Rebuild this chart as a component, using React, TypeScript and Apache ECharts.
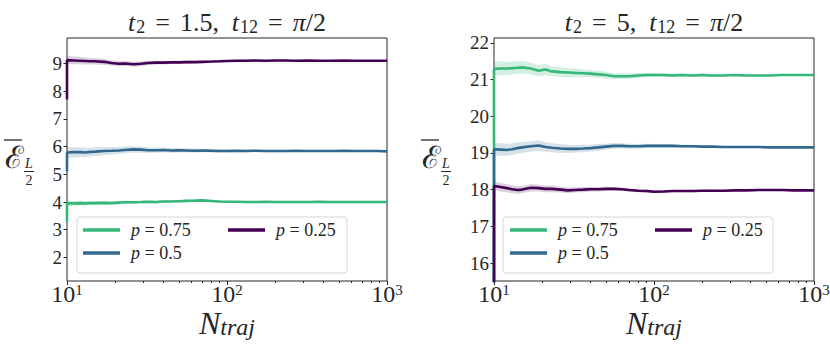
import { useEffect, useRef } from 'react';
import * as echarts from 'echarts';

// ---------------- data ----------------
const N_TRAJ = [10, 11, 12, 13, 14, 15, 17, 19, 21, 23, 26, 29, 32, 36, 40, 45, 50, 56, 63, 70, 80, 90, 100, 115, 130, 150, 175, 200, 230, 270, 320, 380, 450, 530, 630, 750, 870, 1000];

// left panel: t2 = 1.5
const LEFT_P075 = [3.96, 3.95, 3.96, 3.95, 3.96, 3.96, 3.97, 3.96, 3.98, 3.99, 3.99, 4.0, 4.01, 4.0, 4.02, 4.02, 4.03, 4.04, 4.05, 4.06, 4.04, 4.02, 4.01, 4.01, 4.0, 4.0, 4.01, 4.0, 4.0, 4.0, 4.0, 4.01, 4.0, 4.0, 4.0, 4.0, 4.0, 4.0];
const LEFT_P05 = [5.79, 5.8, 5.8, 5.79, 5.81, 5.82, 5.84, 5.85, 5.86, 5.88, 5.9, 5.89, 5.87, 5.87, 5.88, 5.86, 5.87, 5.86, 5.85, 5.86, 5.85, 5.84, 5.84, 5.85, 5.84, 5.85, 5.84, 5.84, 5.84, 5.85, 5.84, 5.84, 5.84, 5.85, 5.84, 5.84, 5.84, 5.83];
const LEFT_P025 = [9.12, 9.11, 9.1, 9.09, 9.08, 9.08, 9.06, 9.02, 8.99, 9.0, 8.97, 8.99, 9.02, 9.03, 9.03, 9.04, 9.04, 9.05, 9.05, 9.06, 9.07, 9.08, 9.09, 9.1, 9.1, 9.11, 9.1, 9.11, 9.11, 9.1, 9.11, 9.1, 9.1, 9.11, 9.1, 9.1, 9.1, 9.1];
const LEFT_P075_SD = [0.1, 0.09, 0.09, 0.08, 0.08, 0.08, 0.07, 0.07, 0.06, 0.06, 0.06, 0.05, 0.05, 0.05, 0.05, 0.04, 0.04, 0.04, 0.04, 0.03, 0.03, 0.03, 0.03, 0.03, 0.02, 0.02, 0.02, 0.02, 0.02, 0.02, 0.02, 0.01, 0.01, 0.01, 0.01, 0.01, 0.01, 0.01];
const LEFT_P05_SD = [0.2, 0.19, 0.18, 0.17, 0.16, 0.16, 0.15, 0.14, 0.13, 0.12, 0.11, 0.11, 0.1, 0.09, 0.09, 0.08, 0.08, 0.07, 0.07, 0.06, 0.06, 0.06, 0.05, 0.05, 0.05, 0.04, 0.04, 0.04, 0.04, 0.03, 0.03, 0.03, 0.03, 0.02, 0.02, 0.02, 0.02, 0.02];
const LEFT_P025_SD = [0.15, 0.14, 0.14, 0.13, 0.12, 0.12, 0.11, 0.1, 0.1, 0.09, 0.09, 0.08, 0.08, 0.07, 0.07, 0.06, 0.06, 0.06, 0.05, 0.05, 0.05, 0.04, 0.04, 0.04, 0.04, 0.03, 0.03, 0.03, 0.03, 0.03, 0.02, 0.02, 0.02, 0.02, 0.02, 0.02, 0.02, 0.02];
const LEFT_START = [3.3, 5.1, 7.7]; // value before N = 10 (p=0.75, 0.5, 0.25)

// right panel: t2 = 5
const RIGHT_P075 = [21.29, 21.3, 21.3, 21.31, 21.32, 21.33, 21.3, 21.24, 21.27, 21.22, 21.2, 21.19, 21.18, 21.17, 21.16, 21.14, 21.12, 21.09, 21.09, 21.09, 21.11, 21.12, 21.12, 21.12, 21.11, 21.12, 21.11, 21.12, 21.11, 21.11, 21.12, 21.11, 21.11, 21.11, 21.12, 21.12, 21.12, 21.12];
const RIGHT_P05 = [19.1, 19.09, 19.08, 19.1, 19.13, 19.15, 19.18, 19.2, 19.16, 19.14, 19.12, 19.11, 19.11, 19.12, 19.13, 19.15, 19.17, 19.19, 19.19, 19.18, 19.18, 19.19, 19.19, 19.19, 19.19, 19.18, 19.18, 19.17, 19.17, 19.16, 19.16, 19.16, 19.16, 19.15, 19.15, 19.15, 19.15, 19.15];
const RIGHT_P025 = [18.1, 18.07, 18.04, 18.01, 17.99, 18.0, 18.05, 18.04, 18.02, 18.02, 18.0, 17.98, 17.99, 18.0, 18.01, 18.01, 18.02, 18.02, 18.01, 17.99, 17.97, 17.96, 17.94, 17.95, 17.96, 17.96, 17.96, 17.97, 17.97, 17.97, 17.98, 17.98, 17.99, 17.99, 17.99, 17.98, 17.98, 17.98];
const RIGHT_P075_SD = [0.19, 0.19, 0.18, 0.18, 0.17, 0.17, 0.16, 0.15, 0.15, 0.14, 0.13, 0.12, 0.12, 0.11, 0.1, 0.1, 0.09, 0.08, 0.08, 0.07, 0.07, 0.06, 0.06, 0.05, 0.05, 0.05, 0.04, 0.04, 0.04, 0.03, 0.03, 0.03, 0.03, 0.02, 0.02, 0.02, 0.02, 0.02];
const RIGHT_P05_SD = [0.17, 0.17, 0.16, 0.16, 0.15, 0.15, 0.14, 0.14, 0.13, 0.12, 0.12, 0.11, 0.1, 0.1, 0.09, 0.09, 0.08, 0.08, 0.07, 0.07, 0.06, 0.06, 0.05, 0.05, 0.05, 0.04, 0.04, 0.04, 0.03, 0.03, 0.03, 0.03, 0.02, 0.02, 0.02, 0.02, 0.02, 0.02];
const RIGHT_P025_SD = [0.12, 0.12, 0.11, 0.11, 0.11, 0.1, 0.1, 0.09, 0.09, 0.09, 0.08, 0.08, 0.07, 0.07, 0.07, 0.06, 0.06, 0.05, 0.05, 0.05, 0.04, 0.04, 0.04, 0.04, 0.03, 0.03, 0.03, 0.03, 0.03, 0.02, 0.02, 0.02, 0.02, 0.02, 0.02, 0.02, 0.01, 0.01];
const RIGHT_START = [15.0, 15.0, 15.0];

const SERIES_NAMES = ['p = 0.75', 'p = 0.5', 'p = 0.25'];
const Y_TICKS_LEFT = [2, 3, 4, 5, 6, 7, 8, 9];
const Y_TICKS_RIGHT = [16, 17, 18, 19, 20, 21, 22];
const X_MAJOR = [10, 100, 1000];
const X_MINOR = [20, 30, 40, 50, 60, 70, 80, 90, 200, 300, 400, 500, 600, 700, 800, 900];

// ---------------- style ----------------
const LINE_COLORS = ['#35b779', '#31688e', '#440154'];
const BAND_COLORS = ['rgba(53,183,121,0.22)', 'rgba(49,104,142,0.2)', 'rgba(68,1,84,0.18)'];
const INK = '#262626';
const SERIF = 'Liberation Serif';

function bandSeries(panel: number, vals: number[], sd: number[], color: string) {
  const pts = N_TRAJ.map((n, i) => [n, vals[i] - sd[i], vals[i] + sd[i]]);
  return {
    type: 'custom', xAxisIndex: panel * 2, yAxisIndex: panel, silent: true, z: 1, clip: true,
    data: pts,
    encode: { x: 0, y: [1, 2] },
    renderItem: (params: any, api: any) => {
      if (params.dataIndex !== 0) return null;
      const upper = pts.map((p) => api.coord([p[0], p[2]]));
      const lower = pts.map((p) => api.coord([p[0], p[1]])).reverse();
      return {
        type: 'polygon',
        shape: { points: [...upper, ...lower] },
        style: { fill: color, stroke: 'none' },
      };
    },
  };
}

function buildSeries(panel: number, values: number[][], sds: number[][], starts: number[]) {
  const out: any[] = [];
  values.forEach((vals, k) => out.push(bandSeries(panel, vals, sds[k], BAND_COLORS[k])));
  values.forEach((vals, k) => {
    out.push({
      type: 'line', name: SERIES_NAMES[k], xAxisIndex: panel * 2, yAxisIndex: panel,
      data: [[N_TRAJ[0], starts[k]], ...N_TRAJ.map((n, i) => [n, vals[i]])],
      symbol: 'none', silent: true, z: 3,
      lineStyle: { color: LINE_COLORS[k], width: 2.6 },
      itemStyle: { color: LINE_COLORS[k] },
    });
  });
  return out;
}

function xAxes(gi: number) {
  const tickStyle = { color: INK, width: 1 };
  return [
    {
      type: 'log', logBase: 10, gridIndex: gi, min: 10, max: 1000, position: 'bottom',
      axisLine: { show: false }, splitLine: { show: false }, minorTick: { show: false },
      axisTick: { show: true, inside: false, length: 4, lineStyle: tickStyle, customValues: X_MAJOR },
      axisLabel: {
        show: true, customValues: X_MAJOR, margin: 1, color: INK, fontFamily: SERIF,
        formatter: (v: number) => `{b|10}{s|${Math.round(Math.log10(v))}}`,
        rich: {
          b: { fontFamily: SERIF, fontSize: 24, lineHeight: 24, verticalAlign: 'bottom', color: INK },
          s: { fontFamily: SERIF, fontSize: 15, lineHeight: 16, verticalAlign: 'top', color: INK },
        },
      },
    },
    {
      type: 'log', logBase: 10, gridIndex: gi, min: 10, max: 1000, position: 'bottom',
      axisLine: { show: false }, splitLine: { show: false }, axisLabel: { show: false },
      axisTick: { show: true, inside: false, length: 2, lineStyle: tickStyle, customValues: X_MINOR },
    },
  ];
}

function yAxis(gi: number, min: number, max: number, ticks: number[]) {
  return {
    type: 'value', gridIndex: gi, min, max, position: 'left',
    axisLine: { show: false }, splitLine: { show: false },
    axisTick: { show: true, inside: false, length: 3.5, lineStyle: { color: INK, width: 1 }, customValues: ticks },
    axisLabel: { show: true, customValues: ticks, margin: 5, fontFamily: SERIF, fontSize: 19, color: INK },
  };
}

const titleRich = {
  i: { fontFamily: SERIF, fontStyle: 'italic', fontSize: 26, lineHeight: 32, verticalAlign: 'bottom', fill: INK },
  n: { fontFamily: SERIF, fontSize: 26, lineHeight: 32, verticalAlign: 'bottom', fill: INK },
  s: { fontFamily: SERIF, fontSize: 18, lineHeight: 17, verticalAlign: 'bottom', fill: INK },
  g: { width: 10, lineHeight: 32, verticalAlign: 'bottom' },
  c: { width: 13, lineHeight: 32, verticalAlign: 'bottom' },
  h: { width: 1, lineHeight: 32, verticalAlign: 'bottom' },
};

function titleText(x: number, t2: string) {
  return {
    type: 'text', x, y: 19.5, z: 20,
    style: {
      text: `{i|t}{h|}{s|2}{g|}{n|=}{g|}{n|${t2},}{c|}{i|t}{h|}{s|12}{g|}{n|=}{g|}{i|π}{n|/2}`,
      rich: titleRich, align: 'center', verticalAlign: 'middle', fill: INK,
    },
  };
}

function xName(x: number) {
  return {
    type: 'text', x, y: 320.5, z: 20,
    style: {
      text: '{N|N}{t|traj}',
      rich: {
        N: { fontFamily: SERIF, fontStyle: 'italic', fontSize: 32, lineHeight: 36, verticalAlign: 'bottom', fill: INK },
        t: { fontFamily: SERIF, fontStyle: 'italic', fontSize: 24, lineHeight: 21, verticalAlign: 'bottom', fill: INK },
      },
      align: 'center', verticalAlign: 'middle', fill: INK,
    },
  };
}

function yName(dx: number) {
  return {
    type: 'group', x: dx, y: 0, z: 20,
    children: [
      { type: 'text', x: 14.5, y: 157, style: { text: 'ℰ', fontFamily: 'DejaVu Serif', fontSize: 31, fill: INK, align: 'center', verticalAlign: 'middle' } },
      { type: 'line', shape: { x1: 4, y1: 140, x2: 22, y2: 140 }, style: { stroke: INK, lineWidth: 1.3 } },
      { type: 'text', x: 29, y: 163, style: { text: 'L', fontFamily: SERIF, fontStyle: 'italic', fontSize: 14, fill: INK, align: 'center', verticalAlign: 'middle' } },
      { type: 'line', shape: { x1: 24, y1: 171.5, x2: 34, y2: 171.5 }, style: { stroke: INK, lineWidth: 1 } },
      { type: 'text', x: 29, y: 180, style: { text: '2', fontFamily: SERIF, fontSize: 14, fill: INK, align: 'center', verticalAlign: 'middle' } },
    ],
  };
}

function legendBox(x: number) {
  return {
    type: 'rect', z: 8,
    shape: { x, y: 217, width: 270, height: 56, r: 3 },
    style: { fill: 'rgba(255,255,255,0.85)', stroke: '#d6d6d6', lineWidth: 1 },
  };
}

const legendCommon = {
  orient: 'vertical', icon: 'rect', itemWidth: 37, itemHeight: 3.5, itemGap: 5,
  padding: 0, selectedMode: false, z: 10, top: 221,
  formatter: (name: string) => `{g|}{i|p}{n|${name.slice(1)}}`,
  textStyle: {
    color: INK, fontFamily: SERIF,
    rich: {
      g: { width: 6, lineHeight: 20 },
      i: { fontFamily: SERIF, fontStyle: 'italic', fontSize: 18, lineHeight: 20, color: INK },
      n: { fontFamily: SERIF, fontSize: 18, lineHeight: 20, color: INK },
    },
  },
};

export default function App() {
  const ref = useRef<HTMLDivElement>(null);
  useEffect(() => {
    if (!ref.current) return;
    const chart = echarts.init(ref.current, undefined, { renderer: 'svg' });
    const gridCommon = {
      top: 38, width: 320, height: 243, show: true, borderColor: INK, borderWidth: 1,
      backgroundColor: 'transparent', containLabel: false, outerBoundsMode: 'none',
    };
    chart.setOption({
      animation: false,
      backgroundColor: '#ffffff',
      grid: [
        { ...gridCommon, left: 67 },
        { ...gridCommon, left: 494 },
      ],
      xAxis: [...xAxes(0), ...xAxes(1)],
      yAxis: [yAxis(0, 1.15, 9.92, Y_TICKS_LEFT), yAxis(1, 15.51, 22.13, Y_TICKS_RIGHT)],
      legend: [
        { ...legendCommon, left: 83, data: [SERIES_NAMES[0], SERIES_NAMES[1]] },
        { ...legendCommon, left: 228, data: [SERIES_NAMES[2]] },
        { ...legendCommon, left: 510, data: [SERIES_NAMES[0], SERIES_NAMES[1]] },
        { ...legendCommon, left: 655, data: [SERIES_NAMES[2]] },
      ],
      graphic: [
        legendBox(77), legendBox(503),
        titleText(227, '1.5'), titleText(654, '5'),
        xName(227), xName(654),
        yName(0), yName(417),
      ],
      series: [
        ...buildSeries(0, [LEFT_P075, LEFT_P05, LEFT_P025], [LEFT_P075_SD, LEFT_P05_SD, LEFT_P025_SD], LEFT_START),
        ...buildSeries(1, [RIGHT_P075, RIGHT_P05, RIGHT_P025], [RIGHT_P075_SD, RIGHT_P05_SD, RIGHT_P025_SD], RIGHT_START),
      ],
    });
    return () => chart.dispose();
  }, []);
  return <div ref={ref} style={{ position: 'fixed', left: 0, top: 0, width: 830, height: 347 }} />;
}
